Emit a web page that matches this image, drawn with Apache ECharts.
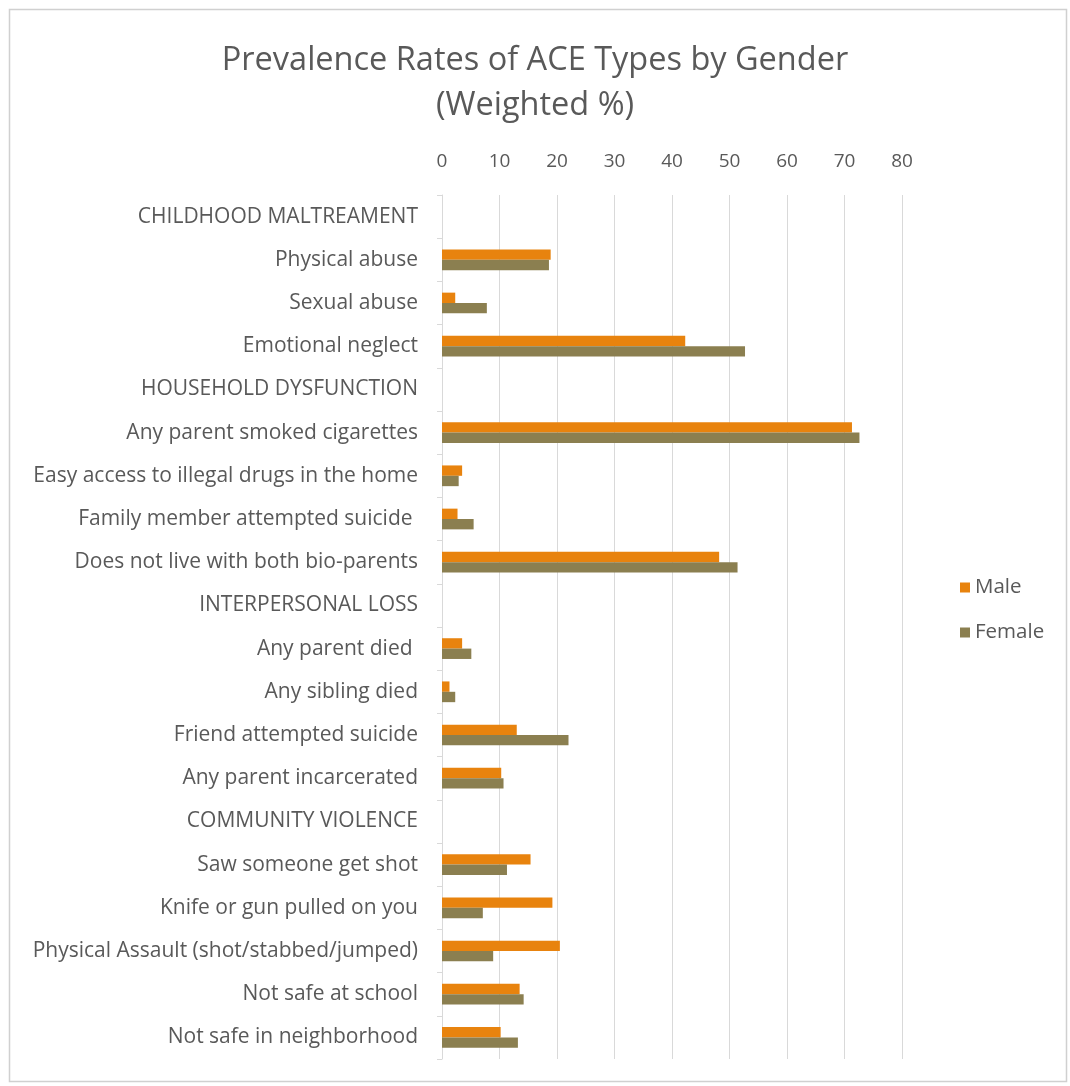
<!DOCTYPE html>
<html>
<head>
<meta charset="utf-8">
<script src="https://cdn.jsdelivr.net/npm/echarts@6/dist/echarts.min.js"></script>
<style>
  html, body { margin: 0; padding: 0; background: #fff; }
  #chart { width: 1070px; height: 1086px; }
</style>
</head>
<body>
<div id="chart"></div>
<script>
// ACE categories, top to bottom (section headers carry no bars)
const categories = [
  'CHILDHOOD MALTREAMENT',
  'Physical abuse',
  'Sexual abuse',
  'Emotional neglect',
  'HOUSEHOLD DYSFUNCTION',
  'Any parent smoked cigarettes',
  'Easy access to illegal drugs in the home',
  'Family member attempted suicide ',
  'Does not live with both bio-parents',
  'INTERPERSONAL LOSS',
  'Any parent died ',
  'Any sibling died',
  'Friend attempted suicide',
  'Any parent incarcerated',
  'COMMUNITY VIOLENCE',
  'Saw someone get shot',
  'Knife or gun pulled on you',
  'Physical Assault (shot/stabbed/jumped)',
  'Not safe at school',
  'Not safe in neighborhood'
];

// Weighted prevalence (%)
const male = [
  null, 18.9, 2.3, 42.3,
  null, 71.3, 3.5, 2.7, 48.2,
  null, 3.5, 1.3, 13.0, 10.3,
  null, 15.4, 19.2, 20.5, 13.5, 10.2
];
const female = [
  null, 18.6, 7.8, 52.7,
  null, 72.6, 2.9, 5.5, 51.4,
  null, 5.1, 2.3, 22.0, 10.7,
  null, 11.3, 7.1, 8.9, 14.2, 13.2
];

const seriesNames = ['Male', 'Female'];
const xTicks = { min: 0, max: 80, interval: 10 };

const FONT = '"Open Sans", Lato, sans-serif';
const TEXT = '#595959';
const GRID = '#D9D9D9';

const chart = echarts.init(document.getElementById('chart'), null, { renderer: 'canvas' });

chart.setOption({
  backgroundColor: '#ffffff',
  animation: false,
  textStyle: { fontFamily: FONT },
  title: {
    text: 'Prevalence Rates of ACE Types by Gender\n(Weighted %)',
    left: 'center',
    top: 33,
    textStyle: {
      fontFamily: FONT,
      fontSize: 32.5,
      fontWeight: 'normal',
      color: TEXT,
      lineHeight: 45
    }
  },
  legend: {
    orient: 'vertical',
    left: 955,
    top: 572,
    itemWidth: 10,
    itemHeight: 10,
    itemGap: 24,
    icon: 'rect',
    textStyle: { fontFamily: FONT, fontSize: 20.5, color: TEXT },
    data: seriesNames
  },
  grid: {
    left: 442,
    right: 168,
    top: 195,
    bottom: 27,
    containLabel: false
  },
  xAxis: {
    type: 'value',
    position: 'top',
    min: xTicks.min,
    max: xTicks.max,
    interval: xTicks.interval,
    axisLine: { show: false },
    axisTick: { show: false },
    axisLabel: { color: TEXT, fontSize: 19, fontFamily: FONT, margin: 24 },
    splitLine: { show: true, lineStyle: { color: GRID, width: 1 } }
  },
  yAxis: {
    type: 'category',
    inverse: true,
    data: categories,
    axisLine: { show: true, lineStyle: { color: GRID } },
    axisTick: { show: true, length: 5, lineStyle: { color: GRID } },
    axisLabel: { color: TEXT, fontSize: 21, fontFamily: FONT, margin: 24 }
  },
  series: [
    {
      name: seriesNames[0],
      type: 'bar',
      data: male,
      barGap: '0%',
      barCategoryGap: '52%',
      itemStyle: { color: '#E8830E' }
    },
    {
      name: seriesNames[1],
      type: 'bar',
      data: female,
      barGap: '0%',
      barCategoryGap: '52%',
      itemStyle: { color: '#8B7F50' }
    }
  ],
  graphic: [
    {
      type: 'rect',
      left: 7,
      top: 7,
      shape: { width: 1057, height: 1072 },
      style: { fill: 'none', stroke: '#D0D0D0', lineWidth: 1.5 },
      silent: true,
      z: -1
    }
  ]
});
</script>
</body>
</html>
